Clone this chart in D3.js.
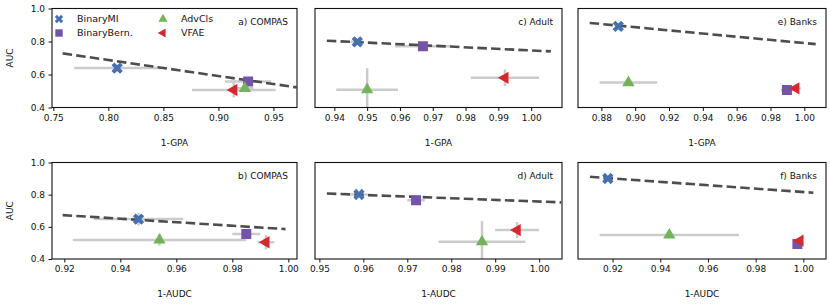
<!DOCTYPE html>
<html>
<head>
<meta charset="utf-8">
<script src="https://cdn.jsdelivr.net/npm/d3@7"></script>
<style>
  body { margin: 0; background: #fff; }
  svg text { font-family: "DejaVu Sans", sans-serif; fill: #111; }
</style>
</head>
<body>
<script>
// methods, one marker each
var methods = ["BinaryMI", "BinaryBern.", "AdvCls", "VFAE"];

// panels in reading order: a, c, e (top row), b, d, f (bottom row)
var panelTitles = ["a) COMPAS", "c) Adult", "e) Banks", "b) COMPAS", "d) Adult", "f) Banks"];
var xLabels = ["1-GPA", "1-GPA", "1-GPA", "1-AUDC", "1-AUDC", "1-AUDC"];
var yLabel = "AUC";

var xTicks = [
  [0.75, 0.80, 0.85, 0.90, 0.95],
  [0.94, 0.95, 0.96, 0.97, 0.98, 0.99, 1.00],
  [0.88, 0.90, 0.92, 0.94, 0.96, 0.98, 1.00],
  [0.92, 0.94, 0.96, 0.98, 1.00],
  [0.95, 0.96, 0.97, 0.98, 0.99, 1.00],
  [0.92, 0.94, 0.96, 0.98, 1.00]
];
var yTicks = [0.4, 0.6, 0.8, 1.0];

// axis limits
var xDomains = [
  [0.7488, 0.9714], [0.9341, 1.0094], [0.8662, 1.0128],
  [0.9156, 1.0031], [0.9490, 1.0052], [0.9055, 1.0095]
];
var yDomain = [0.4, 1.0];

// mean and spread per panel, order of methods
var xMean = [
  [0.808, 0.927, 0.924, 0.914],
  [0.947, 0.967, 0.950, 0.992],
  [0.890, 0.9897, 0.896, 0.995],
  [0.9465, 0.985, 0.954, 0.992],
  [0.959, 0.972, 0.987, 0.995],
  [0.918, 0.9975, 0.9438, 0.9986]
];
var xErr = [
  [0.039, 0.021, 0.008, 0.038],
  [0.002, 0.0085, 0.0094, 0.0104],
  [0.002, 0.0035, 0.017, 0.003],
  [0.016, 0.005, 0.031, 0.003],
  [0.002, 0.002, 0.0099, 0.005],
  [0.002, 0.001, 0.0292, 0.001]
];
var yMean = [
  [0.639, 0.557, 0.516, 0.506],
  [0.798, 0.771, 0.508, 0.580],
  [0.892, 0.506, 0.551, 0.516],
  [0.648, 0.555, 0.518, 0.504],
  [0.801, 0.766, 0.507, 0.580],
  [0.9006, 0.493, 0.549, 0.514]
];
var yErr = [
  [0.02, 0.01, 0.015, 0.045],
  [0.005, 0.005, 0.13, 0.05],
  [0.005, 0.005, 0.01, 0.005],
  [0.04, 0.01, 0.035, 0.045],
  [0.005, 0.005, 0.13, 0.05],
  [0.005, 0.005, 0.01, 0.005]
];

// dashed trend line per panel: x0, y0, x1, y1
var fitLines = [
  [0.7585, 0.728, 0.971, 0.522],
  [0.9377, 0.805, 1.006, 0.740],
  [0.8731, 0.9125, 1.0067, 0.784],
  [0.9194, 0.673, 0.999, 0.586],
  [0.9517, 0.807, 1.005, 0.752],
  [0.9105, 0.911, 1.0042, 0.812]
];

// styles
var colors = ["#4571b0", "#7454a8", "#74b35a", "#d42a2f"];
var colLeft = [52, 315, 578], colRight = [297, 562, 826];
var rowTop = [8.5, 162.5], rowBottom = [107.5, 259];

var svg = d3.select("body").append("svg")
    .attr("width", 830)
    .attr("height", 305);

function markerPath(i, scale) {
  var s = scale || 1;
  if (i == 0) return d3.symbol(d3.symbolCross, 80 * s)();
  if (i == 1) return d3.symbol(d3.symbolSquare, 100 * s)();
  return d3.symbol(d3.symbolTriangle, 66 * s)();
}
function markerRotate(i) {
  if (i == 0) return 45;
  if (i == 3) return -90;
  return 0;
}

panelTitles.forEach(function(title, p) {
  var col = p % 3, row = Math.floor(p / 3);
  var x = d3.scaleLinear().domain(xDomains[p]).range([colLeft[col], colRight[col]]);
  var y = d3.scaleLinear().domain(yDomain).range([rowBottom[row], rowTop[row]]);

  var g = svg.append("g");

  var clipId = "clip" + p;
  g.append("clipPath").attr("id", clipId)
    .append("rect")
      .attr("x", colLeft[col]).attr("y", rowTop[row])
      .attr("width", colRight[col] - colLeft[col])
      .attr("height", rowBottom[row] - rowTop[row]);

  var plot = g.append("g").attr("clip-path", "url(#" + clipId + ")");

  // error bars
  methods.forEach(function(m, i) {
    plot.append("line")
      .attr("x1", x(xMean[p][i] - xErr[p][i])).attr("x2", x(xMean[p][i] + xErr[p][i]))
      .attr("y1", y(yMean[p][i])).attr("y2", y(yMean[p][i]))
      .style("stroke", "#cbcbcb").style("stroke-width", 2.5);
    plot.append("line")
      .attr("x1", x(xMean[p][i])).attr("x2", x(xMean[p][i]))
      .attr("y1", y(yMean[p][i] - yErr[p][i])).attr("y2", y(yMean[p][i] + yErr[p][i]))
      .style("stroke", "#cbcbcb").style("stroke-width", 2.5);
  });

  // trend line
  var f = fitLines[p];
  plot.append("line")
    .attr("x1", x(f[0])).attr("y1", y(f[1]))
    .attr("x2", x(f[2])).attr("y2", y(f[3]))
    .style("stroke", "#4d4d4d").style("stroke-width", 2.6)
    .style("stroke-dasharray", "9.5,4.2");

  // markers
  plot.selectAll(".mk")
      .data(methods)
    .enter().append("path")
      .attr("class", "mk")
      .attr("d", function(d, i) { return markerPath(i); })
      .attr("transform", function(d, i) {
        return "translate(" + x(xMean[p][i]) + "," + y(yMean[p][i]) + ") rotate(" + markerRotate(i) + ")";
      })
      .style("fill", function(d, i) { return colors[i]; });

  // x axis
  var xAxis = g.append("g")
      .attr("transform", "translate(0," + rowBottom[row] + ")")
      .call(d3.axisBottom(x).tickValues(xTicks[p]).tickFormat(d3.format(".2f"))
        .tickSize(3.5).tickPadding(3.5));
  xAxis.select(".domain").remove();
  xAxis.selectAll("line").style("stroke", "#111").style("stroke-width", 1);
  xAxis.selectAll("text").style("font-size", "9px").style("font-family", "DejaVu Sans");

  if (col == 0) {
    var yAxis = g.append("g")
        .attr("transform", "translate(" + colLeft[col] + ",0)")
        .call(d3.axisLeft(y).tickValues(yTicks).tickFormat(d3.format(".1f"))
          .tickSize(3.5).tickPadding(3.5));
    yAxis.select(".domain").remove();
    yAxis.selectAll("line").style("stroke", "#111").style("stroke-width", 1);
    yAxis.selectAll("text").style("font-size", "9px").style("font-family", "DejaVu Sans");

    g.append("text")
      .attr("transform", "translate(10," + ((rowTop[row] + rowBottom[row]) / 2) + ") rotate(-90)")
      .attr("text-anchor", "middle")
      .attr("dy", "0.35em")
      .style("font-size", "9px")
      .text(yLabel);
  }

  // frame
  g.append("rect")
    .attr("x", colLeft[col]).attr("y", rowTop[row])
    .attr("width", colRight[col] - colLeft[col])
    .attr("height", rowBottom[row] - rowTop[row])
    .style("fill", "none").style("stroke", "#111").style("stroke-width", 1.1);

  // panel title
  g.append("text")
    .attr("x", colRight[col] - 9)
    .attr("y", rowTop[row] + 16.5)
    .attr("text-anchor", "end")
    .style("font-size", "9px")
    .text(title);

  // x label
  g.append("text")
    .attr("x", (colLeft[col] + colRight[col]) / 2)
    .attr("y", rowBottom[row] + 38)
    .attr("text-anchor", "middle")
    .style("font-size", "9px")
    .text(xLabels[p]);
});

// legend in panel a
var legendPos = [[59, 19], [59, 33], [163, 19], [163, 33]];
var legend = svg.append("g").selectAll(".legend")
    .data(methods)
  .enter().append("g")
    .attr("class", "legend")
    .attr("transform", function(d, i) { return "translate(" + legendPos[i][0] + "," + legendPos[i][1] + ")"; });

legend.append("path")
    .attr("d", function(d, i) { return markerPath(i, 0.55); })
    .attr("transform", function(d, i) { return "rotate(" + markerRotate(i) + ")"; })
    .style("fill", function(d, i) { return colors[i]; });

legend.append("text")
    .attr("x", 18)
    .attr("dy", "0.35em")
    .style("font-size", "9.5px")
    .text(function(d) { return d; });
</script>
</body>
</html>
